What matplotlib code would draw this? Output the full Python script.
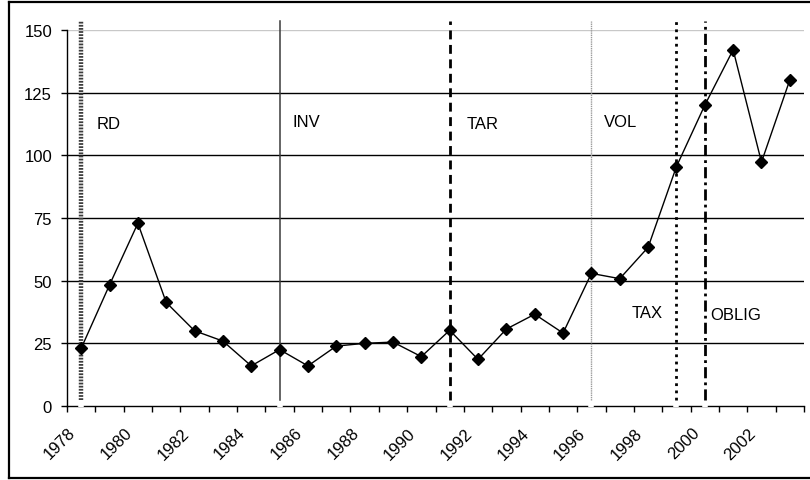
import matplotlib
matplotlib.use("Agg")
import matplotlib.pyplot as plt
import matplotlib.transforms as mtransforms
from matplotlib.lines import Line2D

plt.rcParams['font.family'] = ['Liberation Sans', 'DejaVu Sans']

years = list(range(1978, 2004))
values = [23.0, 48.3, 72.9, 41.3, 30.0, 25.9, 16.0, 22.5, 16.0, 23.9, 25.0, 25.5,
          19.7, 30.2, 18.6, 30.7, 36.6, 29.1, 52.9, 50.8, 63.3, 95.5, 120.0, 142.1,
          97.3, 130.1]
tick_years = list(range(1978, 2004, 2))
y_ticks = [0, 25, 50, 75, 100, 125, 150]

# vertical policy markers: label, year of line, label position (category x, value y)
policy_labels = ['RD', 'INV', 'TAR', 'VOL', 'TAX', 'OBLIG']
policy_years = [1978, 1985, 1991, 1996, 1999, 2000]
label_x = [0.56, 7.45, 13.6, 18.45, 19.42, 22.2]
label_y = [112.7, 113.5, 112.8, 113.5, 37.2, 36.5]

fig = plt.figure(figsize=(8.1, 4.81), dpi=100)
ax = fig.add_axes([67/810, 1-407/481, (804-67)/810, (407-31)/481])

xs = list(range(len(years)))
ax.set_xlim(-0.5, len(years) - 0.5)
ax.set_ylim(0, 150)

# gridlines
for v in y_ticks[1:]:
    ax.axhline(v, color='#000000' if v < 150 else '#c8c8c8', lw=1.0, zorder=1)

# vertical lines
styles = [
    dict(color='#3c3c3c', lw=3.2, linestyle=(0, (0.4, 0.3))),
    dict(color='#3a3a3a', lw=1.1, linestyle='-'),
    dict(color='#000000', lw=2.0, linestyle=(0, (3.2, 2.0))),
    dict(color='#9a9a9a', lw=1.0, linestyle=(0, (1, 0.6))),
    dict(color='#000000', lw=2.0, linestyle=(0, (1.0, 1.6))),
    dict(color='#000000', lw=2.0, linestyle=(0, (4.0, 1.5, 1.0, 1.5))),
]
for yr, st in zip(policy_years, styles):
    xi = years.index(yr)
    ax.plot([xi, xi], [2.5, 153.5], clip_on=False, zorder=3, **st)
    # white gap at axis
    ax.plot([xi, xi], [-0.4, 1.6], color='white', lw=4, clip_on=False,
            zorder=6, solid_capstyle='butt')

for lab, lx, ly in zip(policy_labels, label_x, label_y):
    ax.text(lx, ly, lab, fontsize=12, ha='left', va='center', zorder=5)

# data series
ax.plot(xs, values, color='black', lw=1.0, marker='D', markersize=6,
        markerfacecolor='black', markeredgecolor='black', zorder=4)

# spines
for s in ['top', 'right']:
    ax.spines[s].set_visible(False)
ax.spines['left'].set_linewidth(1.0)
ax.spines['bottom'].set_linewidth(1.0)
ax.spines['left'].set_zorder(5)
ax.spines['bottom'].set_zorder(5)

# y ticks
ax.set_yticks(y_ticks)
ax.set_yticklabels([str(v) for v in y_ticks])
ax.tick_params(axis='y', direction='out', length=4.3, width=1.0, pad=6.5,
               labelsize=12, colors='black')

# x ticks: major at category boundaries, labels at category centres
ax.set_xticks([i - 0.5 for i in range(len(years) + 1)])
ax.set_xticklabels([])
ax.tick_params(axis='x', which='major', direction='out', length=4.3, width=1.0)
offset = mtransforms.ScaledTranslation(-8/100, -24/100, fig.dpi_scale_trans)
for ty in tick_years:
    xi = years.index(ty)
    ax.text(xi, 0, str(ty), rotation=45, ha='right', va='center',
            rotation_mode='anchor', fontsize=12,
            transform=ax.transData + offset, clip_on=False)

# figure border (left, top, bottom)
fig.add_artist(Line2D([9/810, 9/810], [1-3/481, 1-479/481], color='black', lw=1.6,
                      transform=fig.transFigure))
fig.add_artist(Line2D([9/810, 1.0], [1-3/481, 1-3/481], color='black', lw=1.6,
                      transform=fig.transFigure))
fig.add_artist(Line2D([9/810, 1.0], [1-479/481, 1-479/481], color='black', lw=1.6,
                      transform=fig.transFigure))

fig.savefig('out.png', dpi=100)
